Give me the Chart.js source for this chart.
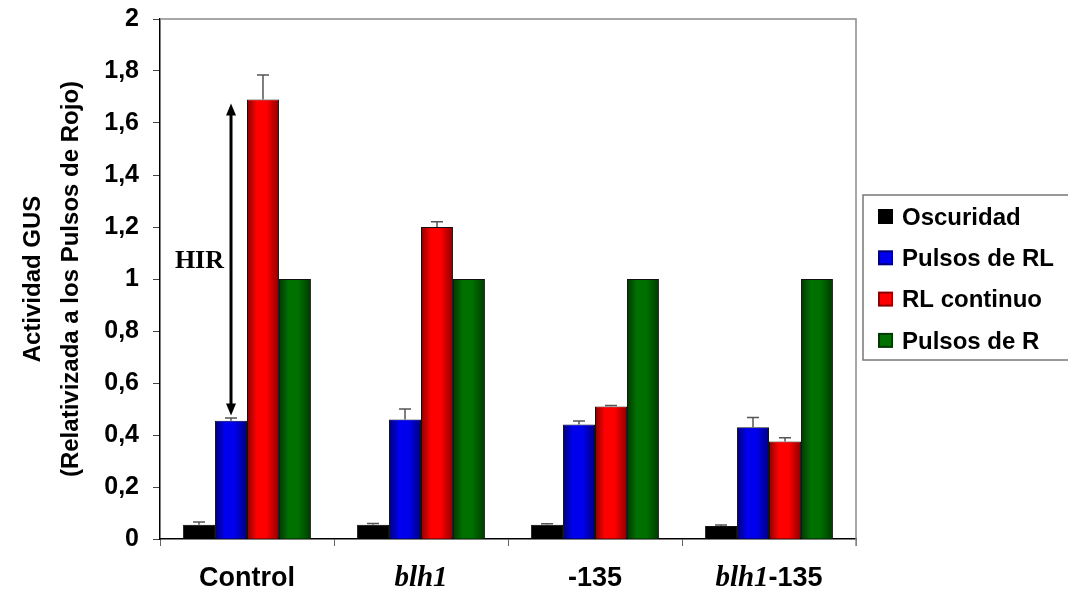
<!DOCTYPE html>
<html>
<head>
<meta charset="utf-8">
<title>Actividad GUS</title>
<script src="https://cdn.jsdelivr.net/npm/chart.js@4/dist/chart.umd.min.js"></script>
<style>
    body { margin: 0; background: #fff; }
    #chart-box { width: 1068px; height: 593px; }
</style>
</head>
<body>
<div id="chart-box"><canvas id="myChart"></canvas></div>
<script>
/*** Data ***/
const categories = ["Control", "blh1", "-135", "blh1-135"];
const seriesNames = ["Oscuridad", "Pulsos de RL", "RL continuo", "Pulsos de R"];
const oscuridad = [0.055, 0.055, 0.055, 0.05];
const pulsosRL = [0.455, 0.46, 0.44, 0.43];
const rlContinuo = [1.69, 1.2, 0.51, 0.375];
const pulsosR = [1, 1, 1, 1];
const oscuridadErr = [0.01, 0.005, 0.004, 0.004];
const pulsosRLErr = [0.01, 0.04, 0.014, 0.037];
const rlContinuoErr = [0.095, 0.02, 0.003, 0.014];
const pulsosRErr = [0, 0, 0, 0];
const yTicks = [0, 0.2, 0.4, 0.6, 0.8, 1, 1.2, 1.4, 1.6, 1.8, 2];
const italicPart = "blh1";
// HIR arrow, from top of the blue Control bar up to the red one
const hirLabel = "HIR";
const hirFrom = 0.475;
const hirTo = 1.675;
const hirLabelAt = 1.07;

/*** Styles ***/
const colors = ["#000000", "#0000ee", "#ff0000", "#007000"];
const edgeColors = ["#000000", "#00007a", "#8a0000", "#003800"];
const sansFont = "'Liberation Sans', Arial, sans-serif";
const serifFont = "'Liberation Serif', 'Times New Roman', serif";

/*** Plugins ***/
const shadedBars = {
    id: "shadedBars",
    afterDatasetDraw(chart, args) {
        const ctx = chart.ctx;
        const i = args.index;
        args.meta.data.forEach((bar) => {
            const w = bar.width;
            const left = bar.x - w / 2;
            const g = ctx.createLinearGradient(left, 0, left + w, 0);
            g.addColorStop(0, edgeColors[i]);
            g.addColorStop(0.3, colors[i]);
            g.addColorStop(0.6, colors[i]);
            g.addColorStop(1, edgeColors[i]);
            ctx.save();
            ctx.fillStyle = g;
            ctx.fillRect(left + 1, bar.y + 1, w - 2, bar.base - bar.y - 1);
            ctx.restore();
        });
    }
};

const errorBars = {
    id: "errorBars",
    afterDatasetsDraw(chart) {
        const ctx = chart.ctx;
        const yScale = chart.scales.y;
        ctx.save();
        ctx.strokeStyle = "#555";
        ctx.lineWidth = 1.5;
        chart.data.datasets.forEach((ds, i) => {
            const meta = chart.getDatasetMeta(i);
            meta.data.forEach((bar, j) => {
                const err = ds.errors[j];
                if (!err) return;
                const top = yScale.getPixelForValue(ds.data[j] + err);
                ctx.beginPath();
                ctx.moveTo(bar.x, bar.y);
                ctx.lineTo(bar.x, top);
                ctx.moveTo(bar.x - 6, top);
                ctx.lineTo(bar.x + 6, top);
                ctx.stroke();
            });
        });
        ctx.restore();
    }
};

const hirArrow = {
    id: "hirArrow",
    afterDatasetsDraw(chart) {
        const ctx = chart.ctx;
        const yScale = chart.scales.y;
        const x = chart.getDatasetMeta(1).data[0].x;
        const y1 = yScale.getPixelForValue(hirTo);
        const y2 = yScale.getPixelForValue(hirFrom);
        ctx.save();
        ctx.strokeStyle = "#000";
        ctx.fillStyle = "#000";
        ctx.lineWidth = 3;
        ctx.beginPath();
        ctx.moveTo(x, y1 + 8);
        ctx.lineTo(x, y2 - 8);
        ctx.stroke();
        ctx.beginPath();
        ctx.moveTo(x, y1);
        ctx.lineTo(x - 5, y1 + 12);
        ctx.lineTo(x + 5, y1 + 12);
        ctx.closePath();
        ctx.fill();
        ctx.beginPath();
        ctx.moveTo(x, y2);
        ctx.lineTo(x - 5, y2 - 12);
        ctx.lineTo(x + 5, y2 - 12);
        ctx.closePath();
        ctx.fill();
        ctx.font = "bold 26px " + serifFont;
        ctx.textAlign = "right";
        ctx.textBaseline = "middle";
        ctx.fillText(hirLabel, x - 7, yScale.getPixelForValue(hirLabelAt));
        ctx.restore();
    }
};

const frameAndLabels = {
    id: "frameAndLabels",
    afterDraw(chart) {
        const ctx = chart.ctx;
        const area = chart.chartArea;
        const xScale = chart.scales.x;
        ctx.save();
        // top and right frame lines
        ctx.strokeStyle = "#8a8a8a";
        ctx.lineWidth = 1.5;
        ctx.beginPath();
        ctx.moveTo(area.left, area.top);
        ctx.lineTo(area.right, area.top);
        ctx.lineTo(area.right, area.bottom + 7);
        ctx.stroke();

        // category labels, "blh1" in italic serif
        const y = area.bottom + 40;
        ctx.fillStyle = "#000";
        ctx.textBaseline = "middle";
        ctx.textAlign = "left";
        const sansBold = "bold 27px " + sansFont;
        const serifItalic = "italic bold 29px " + serifFont;
        categories.forEach((label, i) => {
            const parts = [];
            if (label.startsWith(italicPart)) {
                parts.push([italicPart, serifItalic]);
                if (label.length > italicPart.length) parts.push([label.slice(italicPart.length), sansBold]);
            } else {
                parts.push([label, sansBold]);
            }
            let total = 0;
            parts.forEach((p) => { ctx.font = p[1]; total += ctx.measureText(p[0]).width; });
            let x = xScale.getPixelForValue(i) - total / 2;
            parts.forEach((p) => {
                ctx.font = p[1];
                ctx.fillText(p[0], x, y);
                x += ctx.measureText(p[0]).width;
            });
        });

        // legend box
        ctx.strokeStyle = "#777";
        ctx.lineWidth = 1.5;
        ctx.strokeRect(863, 195, 215, 165);
        ctx.font = "bold 24px " + sansFont;
        chart.data.datasets.forEach((ds, i) => {
            const cy = 217 + i * 41.3;
            ctx.fillStyle = edgeColors[i];
            ctx.fillRect(878, cy - 8, 15, 15);
            ctx.fillStyle = colors[i];
            ctx.fillRect(880, cy - 6, 11, 11);
            ctx.fillStyle = "#000";
            ctx.fillText(ds.label, 902, cy + 1);
        });
        ctx.restore();
    }
};

/*** Chart ***/
function renderChart() {
    const values = [oscuridad, pulsosRL, rlContinuo, pulsosR];
    const errors = [oscuridadErr, pulsosRLErr, rlContinuoErr, pulsosRErr];
    const chartData = {
        labels: categories,
        datasets: seriesNames.map((name, i) => ({
            label: name,
            data: values[i],
            errors: errors[i],
            backgroundColor: colors[i],
            borderColor: "#111",
            borderWidth: 1,
            categoryPercentage: 0.735,
            barPercentage: 1.0
        }))
    };

    const options = {
        responsive: true,
        maintainAspectRatio: false,
        animation: false,
        layout: { padding: { top: 19, right: 212, bottom: 0, left: 0 } },
        plugins: {
            legend: { display: false },
            tooltip: { enabled: false }
        },
        scales: {
            x: {
                afterFit: (scale) => {
                    scale.height = 54;
                    scale.paddingLeft = 0;
                    scale.paddingRight = 0;
                },
                border: { color: "#000", width: 1.5 },
                grid: { drawOnChartArea: false, offset: true, tickLength: 7, color: "#666" },
                ticks: { color: "rgba(0,0,0,0)" }
            },
            y: {
                min: 0,
                max: 2,
                afterFit: (scale) => {
                    scale.width = 160;
                    scale.paddingTop = 0;
                    scale.paddingBottom = 0;
                },
                afterBuildTicks: (scale) => { scale.ticks = yTicks.map((v) => ({ value: v })); },
                border: { color: "#000", width: 1.5 },
                grid: { drawOnChartArea: false, tickLength: 7, color: "#444" },
                ticks: {
                    color: "#000",
                    padding: 14,
                    font: { family: sansFont, size: 25, weight: "bold" },
                    callback: (v) => String(Math.round(v * 10) / 10).replace(".", ",")
                },
                title: {
                    display: true,
                    text: ["Actividad GUS", "(Relativizada a los Pulsos de Rojo)"],
                    color: "#000",
                    font: { family: sansFont, size: 24, weight: "bold", lineHeight: 1.6 },
                    padding: { top: 14, bottom: 0 }
                }
            }
        }
    };

    const ctx = document.getElementById("myChart").getContext("2d");
    window.myChart = new Chart(ctx, {
        type: "bar",
        data: chartData,
        options: options,
        plugins: [shadedBars, errorBars, hirArrow, frameAndLabels]
    });
}
renderChart();
</script>
</body>
</html>
